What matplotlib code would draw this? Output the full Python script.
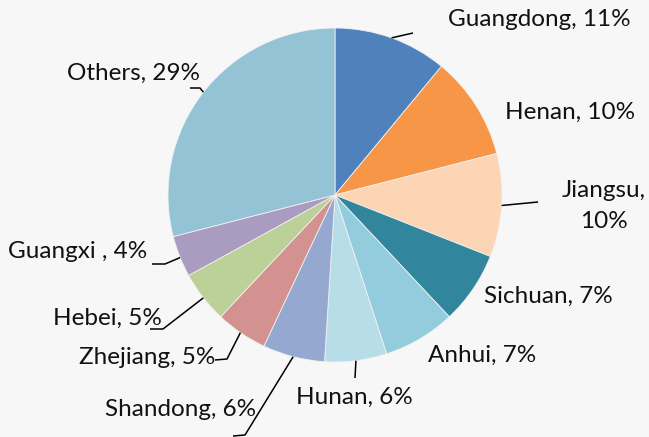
import numpy as np
import matplotlib
matplotlib.use("Agg")
import matplotlib.pyplot as plt

# data
provinces = ["Guangdong", "Henan", "Jiangsu", "Sichuan", "Anhui", "Hunan",
             "Shandong", "Zhejiang", "Hebei", "Guangxi ", "Others"]
shares = [11, 10, 10, 7, 7, 6, 6, 5, 5, 4, 29]
colors = ["#4f81bd", "#f79646", "#fcd5b5", "#31859c", "#93cddd", "#b7dee8",
          "#95a9d0", "#d39290", "#bcd198", "#aa9bc0", "#93c3d5"]

W, H = 649, 437
cx, cy, R = 335, 195, 167

# label layout in pixel coords (x, y, ha)
label_pos = {
    "Guangdong": (448, 20, "left"),
    "Henan": (505, 112, "left"),
    "Jiangsu": (604, 206, "center"),
    "Sichuan": (484, 296, "left"),
    "Anhui": (428, 355, "left"),
    "Hunan": (354, 397, "center"),
    "Shandong": (256, 410, "right"),
    "Zhejiang": (215, 358, "right"),
    "Hebei": (162, 318, "right"),
    "Guangxi ": (147, 251, "right"),
    "Others": (200, 73, "right"),
}
# leader lines: attach angle on the rim (deg) + remaining points in pixels
leaders = {
    "Guangdong": (70.2, [(413, 33)]),
    "Jiangsu": (-3.6, [(538, 202)]),
    "Hunan": (-82.8, [(355, 378)]),
    "Shandong": (-104.5, [(245, 435), (233, 436)]),
    "Zhejiang": (-124.5, [(227, 359), (215, 360)]),
    "Hebei": (-142, [(163, 329), (150, 329)]),
    "Guangxi ": (-158, [(165, 264), (152, 264)]),
    "Others": (142, [(200, 88), (190, 88)]),
}

plt.rcParams["font.family"] = ["Lato", "DejaVu Sans"]

fig = plt.figure(figsize=(W / 100, H / 100), dpi=100)
fig.patch.set_facecolor("#f7f7f7")
ax = fig.add_axes([0, 0, 1, 1])
ax.set_facecolor("#f7f7f7")

ax.pie(shares, colors=colors, startangle=90, counterclock=False,
       center=(cx, H - cy), radius=R,
       wedgeprops=dict(linewidth=0.6, edgecolor="#f0f0f0"))

for name, (ang, pts) in leaders.items():
    a = np.deg2rad(ang)
    xs = [cx + R * np.cos(a)] + [p[0] for p in pts]
    ys = [H - (cy - R * np.sin(a))] + [H - p[1] for p in pts]
    ax.plot(xs, ys, color="black", lw=1.1, solid_capstyle="butt")

for name, val in zip(provinces, shares):
    x, y, ha = label_pos[name]
    txt = f"{name}, {val}%"
    if name == "Jiangsu":
        txt = f"{name},\n{val}%"
    ax.text(x, H - y, txt, ha=ha, va="center", fontsize=17.5,
            color="#111111", multialignment="center", linespacing=1.6)

ax.set_xlim(0, W)
ax.set_ylim(0, H)
ax.set_aspect("auto")
ax.axis("off")

fig.savefig("out.png", dpi=100, facecolor=fig.get_facecolor())
